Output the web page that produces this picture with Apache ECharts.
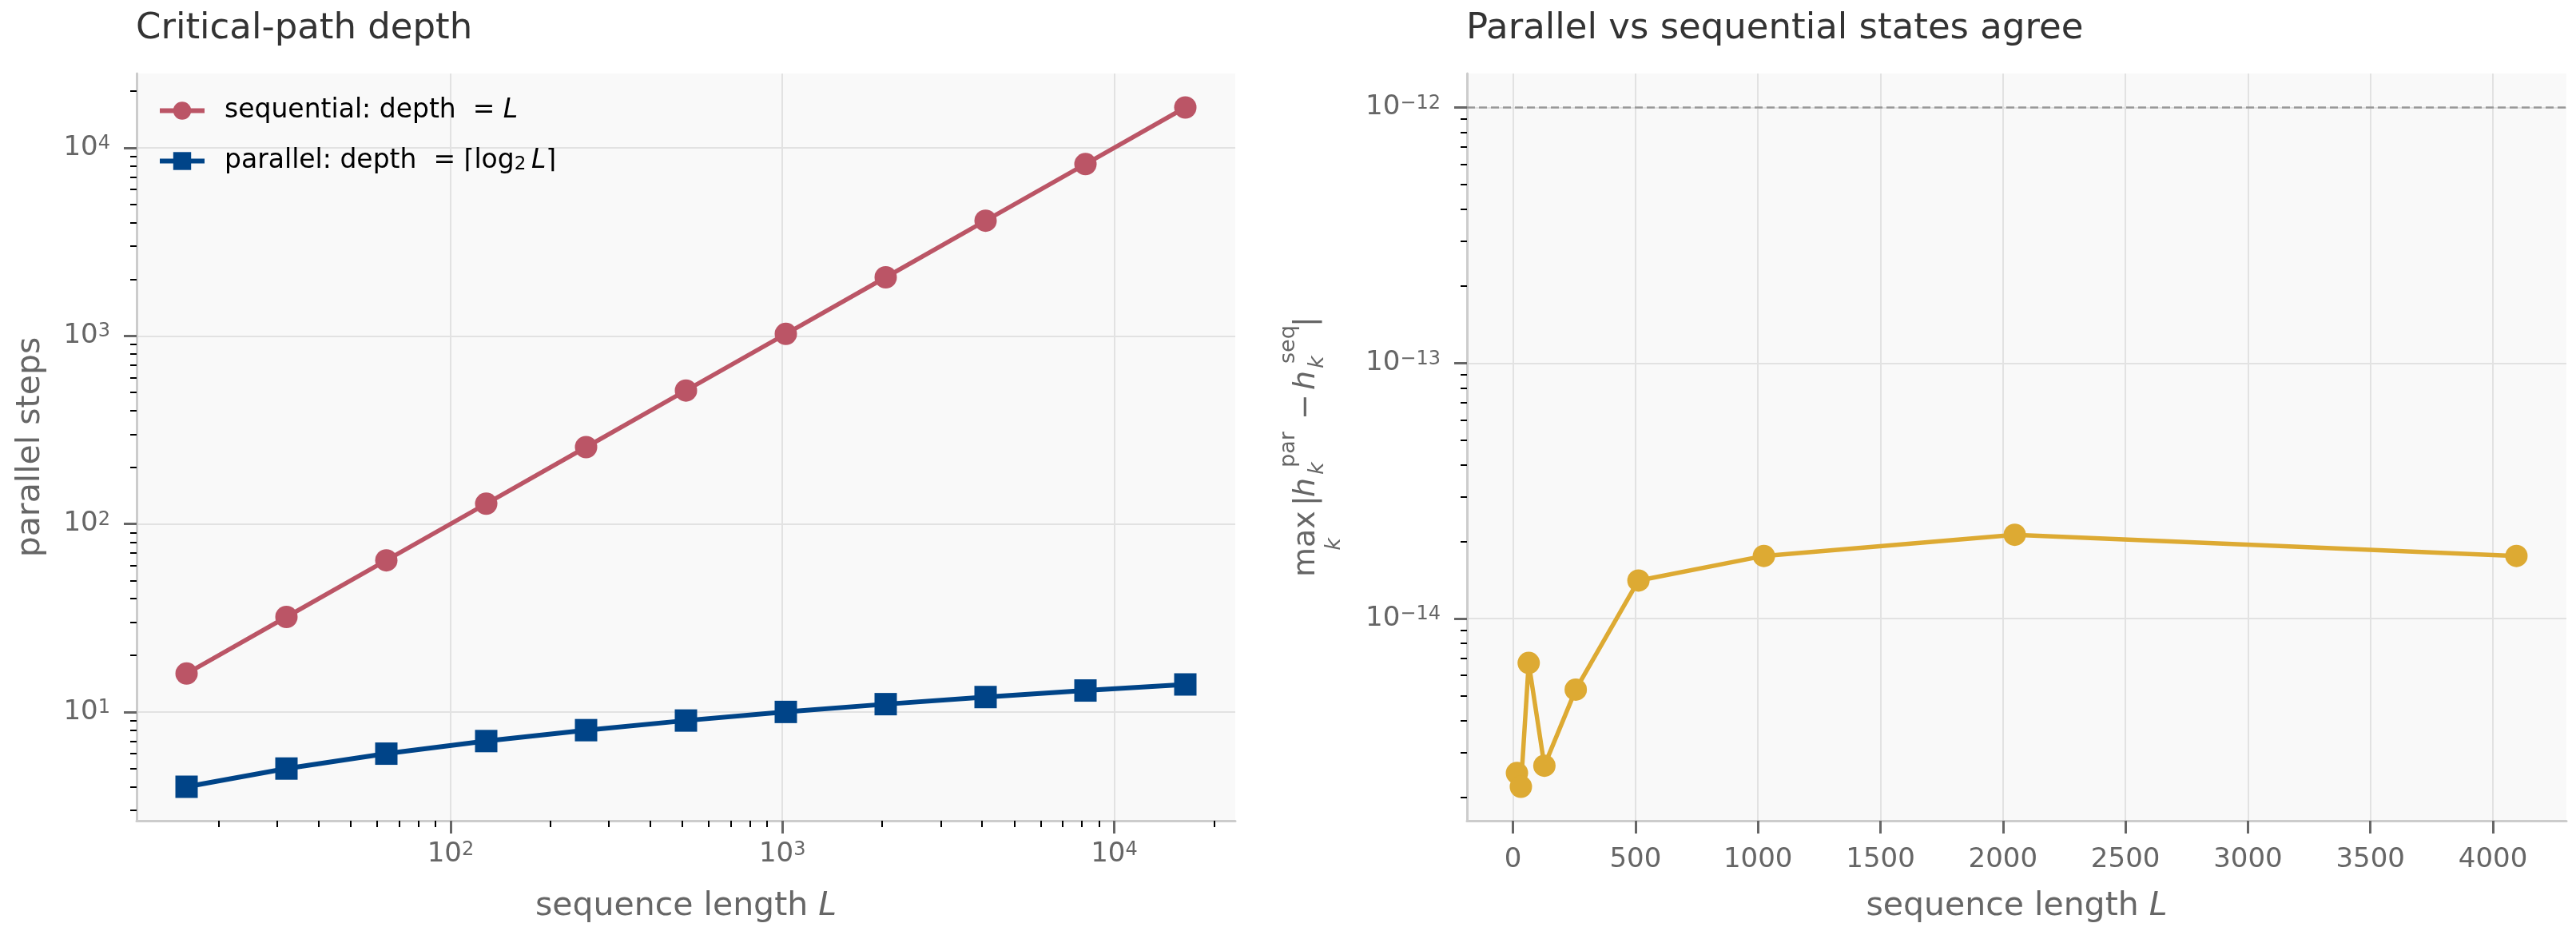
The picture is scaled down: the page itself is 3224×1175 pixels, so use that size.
<!DOCTYPE html>
<html>
<head>
<meta charset="utf-8">
<script src="https://cdn.jsdelivr.net/npm/echarts@6/dist/echarts.min.js"></script>
<style>
    html, body { margin: 0; padding: 0; background: #fff; }
    #main { width: 3224px; height: 1175px; }
</style>
</head>
<body>
<div id="main"></div>
<script>
// left panel: critical-path depth vs sequence length
var lengths = [16, 32, 64, 128, 256, 512, 1024, 2048, 4096, 8192, 16384];
var seqDepth = [16, 32, 64, 128, 256, 512, 1024, 2048, 4096, 8192, 16384];
var parDepth = [4, 5, 6, 7, 8, 9, 10, 11, 12, 13, 14];

// right panel: max abs difference between parallel and sequential states
var checkLengths = [16, 32, 64, 128, 256, 512, 1024, 2048, 4096];
var maxDiff = [2.49e-15, 2.20e-15, 6.71e-15, 2.66e-15, 5.28e-15, 1.41e-14, 1.76e-14, 2.13e-14, 1.76e-14];
var tolerance = 1e-12;

// tick positions
var leftXTicks = [100, 1000, 10000];
var leftYTicks = [10, 100, 1000, 10000];
var rightXTicks = [0, 500, 1000, 1500, 2000, 2500, 3000, 3500, 4000];
var rightYTicks = [1e-14, 1e-13, 1e-12];

var RED = '#BB5566', BLUE = '#004488', GOLD = '#DDAA33';
var FONT = '"DejaVu Sans", sans-serif';
var GRAY = '#666';

function minorTicks(lo, hi, range) {
    var out = [];
    for (var e = lo; e <= hi; e++) {
        for (var m = 2; m <= 9; m++) {
            var v = m * Math.pow(10, e);
            if (v >= range[0] && v <= range[1]) out.push(v);
        }
    }
    return out;
}

// matplotlib style 5% margin in log space
function logPad(lo, hi) {
    var f = Math.pow(hi / lo, 0.05);
    return [lo / f, hi * f];
}

var lx = logPad(Math.min.apply(null, lengths), Math.max.apply(null, lengths));
var ly = logPad(Math.min.apply(null, parDepth), Math.max.apply(null, seqDepth));
var ry = logPad(Math.min.apply(null, maxDiff), tolerance);
var rxSpan = checkLengths[checkLengths.length - 1] - checkLengths[0];
var rx = [checkLengths[0] - 0.05 * rxSpan, checkLengths[checkLengths.length - 1] + 0.05 * rxSpan];

var powRich = {
    b: { fontSize: 34, lineHeight: 34, color: GRAY, fontFamily: FONT, verticalAlign: 'bottom' },
    s: { fontSize: 24, lineHeight: 24, color: GRAY, fontFamily: FONT, verticalAlign: 'top', padding: [0, 0, 17, 0] }
};
function powLabel(v) {
    var e = Math.round(Math.log10(v));
    return '{b|10}{s|' + (e < 0 ? '\u2212' + (-e) : e) + '}';
}

function majorTick(vals) {
    return { show: true, length: 16, customValues: vals, lineStyle: { color: GRAY, width: 3 } };
}
function minorAxis(type, gridIndex, range, vals, pos) {
    return {
        type: type, gridIndex: gridIndex, position: pos, min: range[0], max: range[1],
        axisLine: { show: false, onZero: false }, axisLabel: { show: false }, splitLine: { show: false },
        axisTick: { show: true, length: 8, customValues: vals, lineStyle: { color: '#000', width: 2 } }
    };
}
var spine = { show: true, onZero: false, lineStyle: { color: '#cccccc', width: 3 } };
var gridLine = { show: true, lineStyle: { color: '#e2e2e2', width: 2 } };
var nameStyle = { fontSize: 41, lineHeight: 41, color: GRAY, fontFamily: FONT,
    rich: { i: { fontSize: 41, lineHeight: 41, color: GRAY, fontStyle: 'italic', fontFamily: FONT } } };

// pieces of the rotated label  max_k |h_k^par - h_k^seq|
// [text, along, across, size, italic, align]
var yLabelParts = [
    ['max', 0, -13, 38, false, 'left'],
    ['k', 41, 22, 27, true, 'center'],
    ['|', 89, -13, 38, false, 'left'],
    ['h', 100, -13, 38, true, 'left'],
    ['par', 137, -35, 27, false, 'left'],
    ['k', 128, 1, 27, true, 'left'],
    ['\u2212', 197, -13, 38, false, 'left'],
    ['h', 234, -13, 38, true, 'left'],
    ['seq', 267, -35, 27, false, 'left'],
    ['k', 261, 1, 27, true, 'left'],
    ['|', 313, -13, 38, false, 'left']
];
var labelOrigin = [1648, 722];
var yLabelGraphics = yLabelParts.map(function (p) {
    return {
        type: 'text', x: labelOrigin[0] + p[2], y: labelOrigin[1] - p[1], rotation: Math.PI / 2,
        style: { text: p[0], fontSize: p[3], fontStyle: p[4] ? 'italic' : 'normal', fontFamily: FONT,
                 fill: GRAY, align: p[5], verticalAlign: 'middle' }
    };
});

var chart = echarts.init(document.getElementById('main'));
var option = {
    animation: false,
    backgroundColor: '#fff',
    textStyle: { fontFamily: FONT },
    title: [
        { text: 'Critical-path depth', left: 170, top: 14, padding: 0,
          textStyle: { fontSize: 45, fontWeight: 'normal', color: '#333', fontFamily: FONT } },
        { text: 'Parallel vs sequential states agree', left: 1835, top: 14, padding: 0,
          textStyle: { fontSize: 45, fontWeight: 'normal', color: '#333', fontFamily: FONT } }
    ],
    legend: {
        orient: 'vertical', left: 197, top: 122, padding: 0, itemGap: 25,
        itemWidth: 56, itemHeight: 28,
        data: ['sequential', 'parallel'],
        lineStyle: { width: 6 },
        formatter: function (name) {
            if (name === 'sequential') return 'sequential: depth  = {i|L}';
            return 'parallel: depth  = \u2308log{sub|2}\u2009{i|L}\u2309';
        },
        textStyle: {
            fontSize: 33, lineHeight: 33, color: '#000', fontFamily: FONT, padding: [0, 0, 0, 20],
            rich: {
                i: { fontSize: 33, lineHeight: 33, fontStyle: 'italic', color: '#000', fontFamily: FONT, verticalAlign: 'top' },
                sub: { fontSize: 23, lineHeight: 23, color: '#000', fontFamily: FONT, verticalAlign: 'bottom', padding: [15, 0, 0, 0] }
            }
        }
    },
    grid: [
        { left: 171, top: 92, width: 1375, height: 935, show: true, backgroundColor: '#f9f9f9', borderWidth: 0 },
        { left: 1836, top: 92, width: 1376, height: 935, show: true, backgroundColor: '#f9f9f9', borderWidth: 0 }
    ],
    xAxis: [
        { type: 'log', gridIndex: 0, position: 'bottom', min: lx[0], max: lx[1],
          name: 'sequence length {i|L}', nameLocation: 'middle', nameGap: 87, nameTextStyle: nameStyle,
          axisLine: spine, axisTick: majorTick(leftXTicks), splitLine: gridLine,
          axisLabel: { customValues: leftXTicks, margin: 25, formatter: powLabel, rich: powRich } },
        minorAxis('log', 0, lx, minorTicks(1, 4, lx), 'bottom'),
        { type: 'value', gridIndex: 1, position: 'bottom', min: rx[0], max: rx[1],
          name: 'sequence length {i|L}', nameLocation: 'middle', nameGap: 87, nameTextStyle: nameStyle,
          axisLine: spine, axisTick: majorTick(rightXTicks), splitLine: gridLine,
          axisLabel: { customValues: rightXTicks, margin: 32, fontSize: 34, lineHeight: 34, color: GRAY, fontFamily: FONT,
                       formatter: function (v) { return String(v); } } }
    ],
    yAxis: [
        { type: 'log', gridIndex: 0, position: 'left', min: ly[0], max: ly[1],
          name: 'parallel steps', nameLocation: 'middle', nameGap: 112, nameRotate: 90, nameTextStyle: nameStyle,
          axisLine: spine, axisTick: majorTick(leftYTicks), splitLine: gridLine,
          axisLabel: { customValues: leftYTicks, margin: 33, formatter: powLabel, rich: powRich } },
        minorAxis('log', 0, ly, minorTicks(0, 4, ly), 'left'),
        { type: 'log', gridIndex: 1, position: 'left', min: ry[0], max: ry[1],
          axisLine: spine, axisTick: majorTick(rightYTicks), splitLine: gridLine,
          axisLabel: { customValues: rightYTicks, margin: 33, formatter: powLabel, rich: powRich } },
        minorAxis('log', 1, ry, minorTicks(-15, -12, ry), 'left')
    ],
    series: [
        { name: 'parallel', type: 'line', xAxisIndex: 0, yAxisIndex: 0,
          data: lengths.map(function (l, i) { return [l, parDepth[i]]; }),
          symbol: 'rect', symbolSize: 28, color: BLUE,
          lineStyle: { color: BLUE, width: 6 }, itemStyle: { color: BLUE } },
        { name: 'sequential', type: 'line', xAxisIndex: 0, yAxisIndex: 0,
          data: lengths.map(function (l, i) { return [l, seqDepth[i]]; }),
          symbol: 'circle', symbolSize: 28, color: RED,
          lineStyle: { color: RED, width: 5.5 }, itemStyle: { color: RED } },
        { name: 'tolerance', type: 'line', xAxisIndex: 2, yAxisIndex: 2, silent: true,
          data: [[rx[0], tolerance], [rx[1], tolerance]],
          symbol: 'none', lineStyle: { color: '#999', type: [10, 5], width: 2.5 } },
        { name: 'diff', type: 'line', xAxisIndex: 2, yAxisIndex: 2,
          data: checkLengths.map(function (l, i) { return [l, maxDiff[i]]; }),
          symbol: 'circle', symbolSize: 28, color: GOLD,
          lineStyle: { color: GOLD, width: 5.5 }, itemStyle: { color: GOLD } }
    ],
    graphic: yLabelGraphics
};
chart.setOption(option);
</script>
</body>
</html>
